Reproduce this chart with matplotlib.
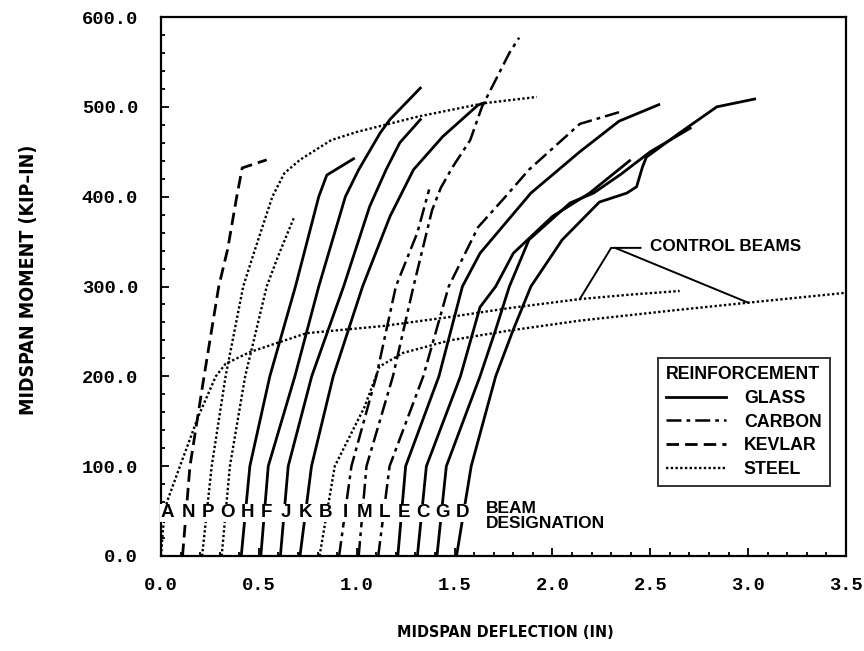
import numpy as np
import matplotlib
matplotlib.use("Agg")
import matplotlib.pyplot as plt
from matplotlib.ticker import MultipleLocator, FormatStrFormatter
from matplotlib.lines import Line2D
from matplotlib import font_manager
from matplotlib.font_manager import FontProperties

# ---------------- data (deflection in, moment kip-in) ----------------
A_defl = [0.0, 0.01, 0.03, 0.097, 0.19, 0.28, 0.33, 0.454, 0.743, 1.134, 1.474, 1.78, 2.14, 2.40, 2.65]
A_mom = [0, 30, 60, 100, 155, 200, 214, 227, 248, 256, 266, 276, 286, 291, 295]
N_defl = [0.11, 0.148, 0.22, 0.295, 0.34, 0.387, 0.415, 0.54]
N_mom = [0, 100, 200, 300, 341, 400, 432, 441]
P_defl = [0.21, 0.259, 0.33, 0.42, 0.48, 0.569, 0.63, 0.71, 0.87, 1.0, 1.31, 1.65, 1.92]
P_mom = [0, 100, 200, 300, 341, 400, 426, 441, 463, 472, 489, 504, 511]
O_defl = [0.31, 0.352, 0.43, 0.54, 0.59, 0.61, 0.68]
O_mom = [0, 100, 200, 300, 329, 340, 377]
H_defl = [0.41, 0.454, 0.556, 0.687, 0.806, 0.847, 0.99]
H_mom = [0, 100, 200, 300, 400, 424, 443]
F_defl = [0.51, 0.548, 0.684, 0.806, 0.942, 1.01, 1.12, 1.17, 1.33]
F_mom = [0, 100, 200, 300, 400, 430, 471, 486, 522]
J_defl = [0.61, 0.65, 0.77, 0.933, 1.066, 1.15, 1.22, 1.33]
J_mom = [0, 100, 200, 300, 389, 430, 460, 487]
K_defl = [0.71, 0.769, 0.88, 1.03, 1.17, 1.29, 1.44, 1.62, 1.66]
K_mom = [0, 100, 200, 300, 378, 430, 467, 502, 505]
B_defl = [0.81, 0.888, 1.04, 1.117, 1.236, 1.474, 1.78, 2.14, 2.6, 3.0, 3.5]
B_mom = [0, 100, 166, 211, 226, 240, 251, 262, 273, 282, 293]
I_defl = [0.91, 0.973, 1.10, 1.20, 1.31, 1.37]
I_mom = [0, 100, 200, 300, 360, 408]
M_defl = [1.01, 1.05, 1.185, 1.29, 1.385, 1.43, 1.49, 1.58, 1.64, 1.78, 1.83]
M_mom = [0, 100, 200, 300, 385, 410, 433, 463, 500, 560, 577]
L_defl = [1.11, 1.168, 1.34, 1.47, 1.62, 1.76, 1.88, 2.14, 2.34]
L_mom = [0, 100, 200, 300, 366, 400, 430, 481, 494]
E_defl = [1.21, 1.25, 1.42, 1.54, 1.63, 1.89, 2.14, 2.34, 2.55]
E_mom = [0, 100, 200, 300, 337, 404, 450, 484, 503]
C_defl = [1.31, 1.356, 1.53, 1.63, 1.71, 1.80, 2.0, 2.19, 2.40]
C_mom = [0, 100, 200, 277, 300, 337, 378, 404, 441]
G_defl = [1.41, 1.458, 1.63, 1.71, 1.78, 1.88, 2.09, 2.21, 2.35, 2.50, 2.71]
G_mom = [0, 100, 200, 252, 300, 352, 393, 404, 425, 450, 477]
D_defl = [1.51, 1.585, 1.71, 1.80, 1.89, 2.05, 2.24, 2.38, 2.43, 2.46, 2.48, 2.65, 2.84, 3.04]
D_mom = [0, 100, 200, 252, 300, 352, 394, 404, 411, 433, 444, 471, 500, 509]

beam_ids = ["A", "N", "P", "O", "H", "F", "J", "K", "B", "I", "M", "L", "E", "C", "G", "D"]
beam_material = ["STEEL", "KEVLAR", "STEEL", "STEEL", "GLASS", "GLASS", "GLASS", "GLASS",
                 "STEEL", "CARBON", "CARBON", "CARBON", "GLASS", "GLASS", "GLASS", "GLASS"]
control_beams = ["A", "B"]
materials = ["GLASS", "CARBON", "KEVLAR", "STEEL"]
x_ticks = [0.0, 0.5, 1.0, 1.5, 2.0, 2.5, 3.0, 3.5]
y_ticks = [0, 100, 200, 300, 400, 500, 600]

curves = {b: (globals()[b + "_defl"], globals()[b + "_mom"]) for b in beam_ids}

# ---------------- styles ----------------
style = {
    "GLASS": dict(linestyle="-", linewidth=2.0),
    "CARBON": dict(linestyle=(0, (6, 2, 1.5, 2)), linewidth=1.8),
    "KEVLAR": dict(linestyle=(0, (4.5, 2.2)), linewidth=2.0),
    "STEEL": dict(linestyle=(0, (1.0, 1.0)), linewidth=1.7),
}
label_font = ["Liberation Sans", "DejaVu Sans"]
mono_font = ["Liberation Mono", "DejaVu Sans Mono"]

# condensed bold sans face for the axis titles (DejaVu Sans Condensed Bold if present)
cond = [f for f in font_manager.fontManager.ttflist
        if (("Condensed" in f.name or "Condensed" in f.fname) and "Mono" not in f.name
            and "Serif" not in f.name and "Bold" in f.fname
            and "Oblique" not in f.fname and "Italic" not in f.fname)]
cond.sort(key=lambda f: f.fname)
if cond:
    xlab_fp = FontProperties(fname=cond[0].fname, size=11.5)
    ylab_fp = FontProperties(fname=cond[0].fname, size=14.0)
else:
    xlab_fp = FontProperties(family=label_font, weight="bold", size=10.5)
    ylab_fp = FontProperties(family=label_font, weight="bold", size=12.5)

fig = plt.figure(figsize=(8.64, 6.51), dpi=100)
ax = fig.add_axes([161 / 864, 95 / 651, 685 / 864, 539 / 651])

for b, mat in zip(beam_ids, beam_material):
    x, y = curves[b]
    ax.plot(x, y, color="black", solid_capstyle="butt", solid_joinstyle="round",
            zorder=2, **style[mat])

ax.set_xlim(0, 3.5)
ax.set_ylim(0, 600)
ax.set_xticks(x_ticks)
ax.set_yticks(y_ticks)
ax.xaxis.set_minor_locator(MultipleLocator(0.1))
ax.yaxis.set_minor_locator(MultipleLocator(20))
ax.xaxis.set_major_formatter(FormatStrFormatter("%.1f"))
ax.yaxis.set_major_formatter(FormatStrFormatter("%.1f"))
ax.tick_params(which="both", direction="in", top=False, right=False, width=1.3, color="black")
ax.tick_params(which="major", length=5.5)
ax.tick_params(which="minor", length=2.8)
ax.tick_params(axis="y", which="major", pad=16.5)
ax.tick_params(axis="x", which="major", pad=15)
for lab in ax.get_xticklabels() + ax.get_yticklabels():
    lab.set_fontfamily(mono_font)
    lab.set_fontweight("bold")
    lab.set_fontsize(13.5)
for sp in ax.spines.values():
    sp.set_linewidth(1.6)

ax.set_xlabel("MIDSPAN DEFLECTION (IN)", fontproperties=xlab_fp)
ax.set_ylabel("MIDSPAN MOMENT (KIP–IN)", fontproperties=ylab_fp)
ax.xaxis.set_label_coords((505 - 161) / 685, -(625 - 556) / 539)
ax.yaxis.set_label_coords(-(161 - 38) / 685, (556 - 280) / 539)

# beam designation letters
for b in beam_ids:
    x0 = curves[b][0][0]
    ax.text(x0 + 0.03, 48, b, ha="center", va="center", fontsize=13.5, fontweight="bold",
            family=label_font, zorder=4,
            bbox=dict(boxstyle="square,pad=0.03", fc="white", ec="none"))
ax.text(1.66, 45, "BEAM\nDESIGNATION", ha="left", va="center", fontsize=12.5,
        fontweight="bold", family=label_font, linespacing=1.0)

# control beams annotation
ptA = (2.14, np.interp(2.14, A_defl, A_mom))
ptB = (3.0, np.interp(3.0, B_defl, B_mom))
jx, jy = 2.30, 343
ax.plot([ptA[0], jx, 2.45], [ptA[1], jy, jy], color="black", lw=1.4, zorder=3)
ax.plot([jx + 0.02, ptB[0]], [jy, ptB[1]], color="black", lw=1.4, zorder=3)
ax.text(2.50, 344, "CONTROL BEAMS", ha="left", va="center", fontsize=12.3,
        fontweight="bold", family=label_font)

# legend
handles = [Line2D([0], [0], color="black", **style[m]) for m in materials]
leg = ax.legend(handles, materials, title="REINFORCEMENT", loc="upper left",
                bbox_to_anchor=(0.712, 0.3835), frameon=True, fancybox=False,
                edgecolor="black", handlelength=3.4, handletextpad=1.0,
                borderpad=0.45, labelspacing=0.38, alignment="left",
                prop=dict(family=label_font, weight="bold", size=12.8),
                title_fontproperties=dict(family=label_font, weight="bold", size=12.8))
leg.get_frame().set_linewidth(1.4)

fig.savefig("out.png", dpi=100)
